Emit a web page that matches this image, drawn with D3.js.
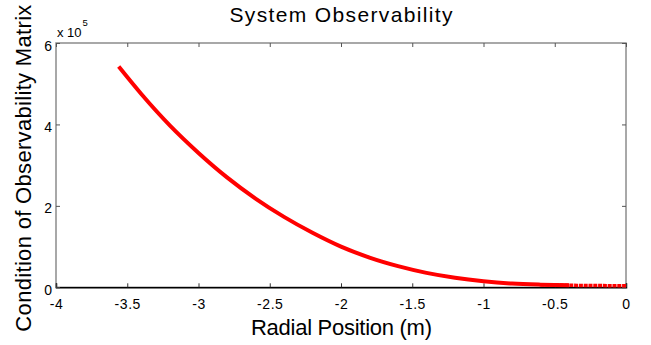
<!DOCTYPE html>
<html><head><meta charset="utf-8">
<script src="https://cdn.jsdelivr.net/npm/d3@7"></script>
<style>body{margin:0;background:#fff}svg{display:block}text{font-family:"Liberation Sans",Arial,sans-serif}</style>
</head><body>
<svg id="c" width="651" height="345"></svg>
<script>
const radialPos = [-3.56,-3.4,-3.2,-3.0,-2.8,-2.6,-2.4,-2.2,-2.0,-1.8,-1.6,-1.4,-1.2,-1.0,-0.8,-0.6,-0.4,-0.2,0];
const condNum = [5.42,4.74,3.97,3.30,2.70,2.18,1.73,1.34,1.00,0.73,0.52,0.355,0.235,0.150,0.093,0.065,0.050,0.042,0.040].map(v=>v*1e5);
const xTicks = [-4,-3.5,-3,-2.5,-2,-1.5,-1,-0.5,0];
const yTicks = [0,2e5,4e5,6e5];

const svg = d3.select("#c");
const m = {l:56,r:626,t:43,b:287.3};
const x = d3.scaleLinear().domain([-4,0]).range([m.l,m.r]);
const y = d3.scaleLinear().domain([0,6e5]).range([m.b,m.t]);

// box
svg.append("rect").attr("x",m.l).attr("y",m.t).attr("width",m.r-m.l).attr("height",m.b-m.t)
  .attr("fill","none").attr("stroke","#8c8c8c").attr("stroke-width",1.5);

const fmt = d => d===0?"0":String(d);
const gx = svg.append("g").attr("transform",`translate(0,${m.b})`)
  .call(d3.axisBottom(x).tickValues(xTicks).tickSize(-4).tickPadding(11.5).tickFormat(fmt));
gx.select(".domain").attr("stroke","#000").attr("stroke-width",1.5);
gx.selectAll(".tick line").attr("stroke","#333");
gx.selectAll("text").attr("font-size",14).attr("letter-spacing",0.6).attr("fill","#000");

const gt = svg.append("g").attr("transform",`translate(0,${m.t})`)
  .call(d3.axisTop(x).tickValues(xTicks).tickSize(-4).tickFormat(""));
gt.select(".domain").remove();
gt.selectAll(".tick line").attr("stroke","#555");

const gy = svg.append("g").attr("transform",`translate(${m.l},0)`)
  .call(d3.axisLeft(y).tickValues(yTicks).tickSize(-4).tickPadding(4).tickFormat(d=>d/1e5));
gy.select(".domain").remove();
gy.selectAll(".tick line").attr("stroke","#555");
gy.selectAll("text").attr("font-size",14).attr("fill","#000").attr("dy","0.5em");

const gr = svg.append("g").attr("transform",`translate(${m.r},0)`)
  .call(d3.axisRight(y).tickValues(yTicks).tickSize(-4).tickFormat(""));
gr.select(".domain").remove();
gr.selectAll(".tick line").attr("stroke","#555");

// exponent
const ex = svg.append("text").attr("x",57).attr("y",37).attr("font-size",13);
ex.append("tspan").text("x 10");
ex.append("tspan").attr("dy",-11).attr("dx",1).attr("font-size",9.5).text("5");

// curve
const pts = radialPos.map((d,i)=>[d,condNum[i]]);
const line = d3.line().x(d=>x(d[0])).y(d=>y(d[1])).curve(d3.curveMonotoneX);
svg.append("path").datum(pts.filter(d=>d[0]<=-0.4))
  .attr("d",line)
  .attr("fill","none").attr("stroke","#ff0000").attr("stroke-width",4).attr("stroke-linecap","butt");
svg.append("path").datum(pts.filter(d=>d[0]>=-0.6))
  .attr("d",line)
  .attr("fill","none").attr("stroke","#ff0000").attr("stroke-width",3.5).attr("stroke-dasharray","4,0.8");

svg.append("text").attr("x",(m.l+m.r)/2).attr("y",21.7).attr("text-anchor","middle").attr("font-size",21)
  .attr("textLength",223).attr("lengthAdjust","spacing").text("System Observability");
svg.append("text").attr("x",(m.l+m.r)/2+0.5).attr("y",335).attr("text-anchor","middle").attr("font-size",22)
  .attr("textLength",181).attr("lengthAdjust","spacing").text("Radial Position (m)");
svg.append("text").attr("transform",`translate(31,${(m.t+m.b)/2+3}) rotate(-90)`).attr("text-anchor","middle").attr("font-size",22)
  .attr("textLength",327).attr("lengthAdjust","spacing").text("Condition of Observability Matrix");
</script>
</body></html>
